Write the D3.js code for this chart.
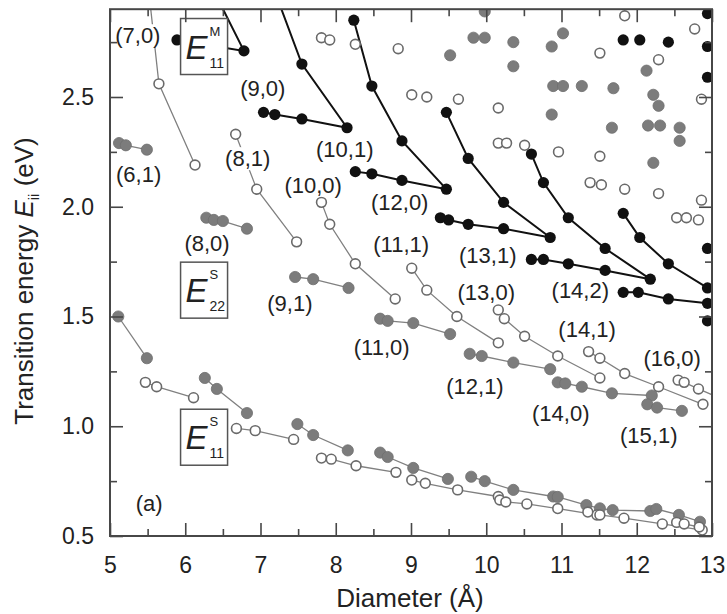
<!DOCTYPE html>
<html>
<head>
<meta charset="utf-8">
<script src="https://cdn.jsdelivr.net/npm/d3@7"></script>
<style>
  body { margin: 0; background: #fff; }
  text { font-family: "Liberation Sans", Arial, Helvetica, sans-serif; fill: #222; }
</style>
</head>
<body>
<svg id="chart" width="727" height="614"></svg>
<script>
// ---- data: [diameter (Å), transition energy (eV)] ----

// metallic E11 families (each polyline: upper branch down to the kink, then back along the lower branch)
const metallicFamilies = [
  [[6.37, 2.99], [6.78, 2.71], [5.89, 2.76]],
  [[7.18, 2.99], [7.55, 2.65], [8.15, 2.36], [7.55, 2.40], [7.19, 2.42], [7.04, 2.43]],
  [[8.24, 2.85], [8.48, 2.55], [8.88, 2.30], [9.47, 2.08], [8.88, 2.12], [8.48, 2.15], [8.26, 2.16]],
  [[9.47, 2.43], [9.76, 2.22], [10.23, 2.02], [10.85, 1.86], [10.23, 1.90], [9.76, 1.92], [9.50, 1.94], [9.39, 1.95]],
  [[10.60, 2.24], [10.76, 2.11], [11.09, 1.95], [11.58, 1.81], [12.18, 1.67], [11.58, 1.71], [11.09, 1.74], [10.76, 1.76], [10.60, 1.76]],
  [[11.82, 1.97], [12.04, 1.86], [12.42, 1.74], [12.94, 1.63], [13.31, 1.55], [12.94, 1.56], [12.42, 1.58], [12.02, 1.61], [11.82, 1.61]]
];
const metallicSingles = [
  [11.82, 2.76], [12.04, 2.76], [12.42, 2.75], [12.94, 2.88], [12.94, 2.73],
  [12.94, 2.59], [12.94, 1.81], [12.94, 1.48]
];

// semiconducting E22, open-circle families: (7,0) (8,1) (10,0) (11,1) (13,0) (14,1) (16,0)
const e22Open = [
  [[5.50, 3.03], [5.65, 2.56], [6.13, 2.19]],
  [[6.67, 2.33], [6.95, 2.08], [7.48, 1.84]],
  [[7.81, 2.02], [7.92, 1.92], [8.26, 1.74], [8.79, 1.58]],
  [[9.01, 1.72], [9.21, 1.62], [9.61, 1.50], [10.16, 1.38]],
  [[10.16, 1.53], [10.24, 1.49], [10.51, 1.41], [10.95, 1.32], [11.51, 1.22]],
  [[11.36, 1.34], [11.51, 1.31], [11.84, 1.24], [12.29, 1.18], [12.88, 1.10]],
  [[12.55, 1.21], [12.63, 1.20], [12.82, 1.17], [13.37, 1.09]]
];
// semiconducting E22, filled families: (6,1) (8,0) (9,1) (11,0) (12,1) (14,0) (15,1)
const e22Filled = [
  [[5.12, 2.29], [5.21, 2.28], [5.49, 2.26]],
  [[6.28, 1.95], [6.38, 1.94], [6.50, 1.935], [6.82, 1.90]],
  [[7.46, 1.68], [7.70, 1.67], [8.17, 1.63]],
  [[8.59, 1.49], [8.69, 1.48], [9.03, 1.47], [9.52, 1.42]],
  [[9.78, 1.33], [9.94, 1.32], [10.36, 1.29], [10.85, 1.26]],
  [[10.95, 1.20], [11.05, 1.195], [11.27, 1.18], [11.67, 1.15], [12.20, 1.14]],
  [[12.14, 1.10], [12.27, 1.085], [12.60, 1.07]]
];
// semiconducting E11 families
const e11Open = [
  [[5.47, 1.20], [5.62, 1.18], [6.11, 1.13]],
  [[6.68, 0.99], [6.93, 0.98], [7.44, 0.94]],
  [[7.81, 0.855], [7.94, 0.85], [8.27, 0.82], [8.80, 0.79]],
  [[9.01, 0.755], [9.19, 0.74], [9.62, 0.71], [10.16, 0.68]],
  [[10.18, 0.664], [10.26, 0.655], [10.54, 0.646], [10.95, 0.625], [11.47, 0.596]],
  [[11.35, 0.609], [11.51, 0.596], [11.83, 0.581], [12.34, 0.555], [12.87, 0.527]],
  [[12.53, 0.562], [12.63, 0.555], [12.83, 0.541]]
];
const e11Filled = [
  [[5.11, 1.50], [5.49, 1.31]],
  [[6.26, 1.22], [6.42, 1.17], [6.82, 1.06]],
  [[7.49, 1.01], [7.70, 0.96], [8.16, 0.89]],
  [[8.59, 0.88], [8.69, 0.86], [9.03, 0.81], [9.49, 0.76]],
  [[9.80, 0.77], [9.98, 0.75], [10.36, 0.71], [10.89, 0.68]],
  [[10.95, 0.678], [11.33, 0.641], [11.51, 0.626], [11.68, 0.618], [12.18, 0.614]],
  [[12.26, 0.623], [12.56, 0.596], [12.84, 0.565]]
];
// higher transitions of larger tubes (no connecting lines)
const scatterOpen = [
  [7.81, 2.77], [7.92, 2.76], [8.26, 2.74], [8.83, 2.72], [9.01, 2.51], [9.21, 2.50],
  [9.63, 2.49], [10.16, 2.45], [10.16, 2.29], [10.27, 2.29], [10.51, 2.28], [10.96, 2.25],
  [11.51, 2.70], [11.51, 2.23], [11.38, 2.11], [11.53, 2.10], [11.84, 2.08], [12.29, 2.06],
  [12.29, 2.67], [12.77, 2.81], [11.84, 2.87], [12.86, 2.49], [12.86, 2.03],
  [12.53, 1.95], [12.66, 1.95], [12.82, 1.94]
];
const scatterFilled = [
  [9.98, 2.89], [9.83, 2.77], [9.98, 2.77], [10.36, 2.75], [10.87, 2.73], [11.02, 2.79],
  [9.52, 2.69], [10.36, 2.64], [10.89, 2.55], [11.02, 2.55], [11.27, 2.55], [11.69, 2.54],
  [10.87, 2.42], [11.67, 2.36], [12.13, 2.62], [12.22, 2.51], [12.29, 2.46], [12.15, 2.37],
  [12.31, 2.37], [12.57, 2.36], [12.57, 2.30], [12.22, 2.20]
];

// chirality labels placed next to their families
const chiralityLabels = [
  ["(7,0)", 5.37, 2.78], ["(6,1)", 5.38, 2.15], ["(9,0)", 7.03, 2.54], ["(8,1)", 6.83, 2.22],
  ["(10,1)", 8.12, 2.26], ["(10,0)", 7.70, 2.10], ["(8,0)", 6.29, 1.835], ["(12,0)", 8.85, 2.02],
  ["(11,1)", 8.87, 1.83], ["(13,1)", 10.02, 1.78], ["(9,1)", 7.39, 1.56], ["(13,0)", 10.00, 1.61],
  ["(14,2)", 11.25, 1.62], ["(14,1)", 11.34, 1.44], ["(11,0)", 8.61, 1.36], ["(16,0)", 12.47, 1.31],
  ["(12,1)", 9.85, 1.18], ["(14,0)", 10.99, 1.06], ["(15,1)", 12.16, 0.96]
];
const panelTag = ["(a)", 5.52, 0.65];
// boxed transition names: superscript, subscript, box centre
const boxNames = [
  ["M", "11", 6.25, 2.73],
  ["S", "22", 6.25, 1.62],
  ["S", "11", 6.25, 0.95]
];

const xMajor = [5, 6, 7, 8, 9, 10, 11, 12, 13];
const xMinor = [5.5, 6.5, 7.5, 8.5, 9.5, 10.5, 11.5, 12.5];
const yMajor = [0.5, 1.0, 1.5, 2.0, 2.5];
const yMinor = [0.75, 1.25, 1.75, 2.25, 2.75];

// ---- layout ----
const svg = d3.select("#chart");
const plotLeft = 110, plotRight = 712, plotTop = 9.2, plotBottom = 536;
const x = d3.scaleLinear().domain([5, 13]).range([plotLeft, plotRight]);
const y = d3.scaleLinear().domain([0.5, 2.9]).range([plotBottom, plotTop]);

const frameColor = "#474747";
const grayLine = "#808080";
const grayFill = "#7c7c7c";
const openStroke = "#6a6a6a";

svg.append("defs").append("clipPath").attr("id", "plotClip")
  .append("rect").attr("x", plotLeft).attr("y", plotTop)
  .attr("width", plotRight - plotLeft).attr("height", plotBottom - plotTop);

const plot = svg.append("g").attr("clip-path", "url(#plotClip)");
const line = d3.line().x(d => x(d[0])).y(d => y(d[1]));

// connecting lines
const semiFamilies = [...e22Open, ...e22Filled, ...e11Open, ...e11Filled];
plot.selectAll("path.semi").data(semiFamilies).join("path")
  .attr("class", "semi").attr("d", line)
  .attr("fill", "none").attr("stroke", grayLine).attr("stroke-width", 1.3);
plot.selectAll("path.metal").data(metallicFamilies).join("path")
  .attr("class", "metal").attr("d", line)
  .attr("fill", "none").attr("stroke", "#111").attr("stroke-width", 2);

// markers
const openPts = [...e22Open.flat(), ...e11Open.flat(), ...scatterOpen];
const filledPts = [...e22Filled.flat(), ...e11Filled.flat(), ...scatterFilled];
const metalPts = [...metallicFamilies.flat(), ...metallicSingles];

plot.selectAll("circle.filled").data(filledPts).join("circle")
  .attr("class", "filled")
  .attr("cx", d => x(d[0])).attr("cy", d => y(d[1])).attr("r", 5.6)
  .attr("fill", grayFill).attr("stroke", "#6e6e6e").attr("stroke-width", 0.8);
plot.selectAll("circle.open").data(openPts).join("circle")
  .attr("class", "open")
  .attr("cx", d => x(d[0])).attr("cy", d => y(d[1])).attr("r", 4.9)
  .attr("fill", "#fff").attr("stroke", openStroke).attr("stroke-width", 1.6);
plot.selectAll("circle.metal").data(metalPts).join("circle")
  .attr("class", "metal")
  .attr("cx", d => x(d[0])).attr("cy", d => y(d[1])).attr("r", 5.6)
  .attr("fill", "#111");

// chirality labels on a white backing
const labelLayer = svg.append("g");
chiralityLabels.concat([panelTag]).forEach(([txt, d, e]) => {
  const g = labelLayer.append("g");
  const t = g.append("text")
    .attr("x", x(d)).attr("y", y(e)).attr("dy", "0.35em")
    .attr("text-anchor", "middle").attr("font-size", 22)
    .text(txt);
  const bb = t.node().getBBox();
  g.insert("rect", "text")
    .attr("x", bb.x - 1).attr("y", bb.y + 1)
    .attr("width", bb.width + 2).attr("height", bb.height - 2)
    .attr("fill", "#fff");
});

// boxed transition names: italic E with superscript and subscript set as one text run
const boxW = 47, boxH = 56;
boxNames.forEach(([sup, sub, d, e]) => {
  const bx = x(d) - boxW / 2, by = y(e) - boxH / 2;
  const g = svg.append("g").attr("transform", `translate(${bx},${by})`);
  g.append("rect").attr("width", boxW).attr("height", boxH)
    .attr("fill", "#fff").attr("stroke", "#555").attr("stroke-width", 1.5);
  const t = g.append("text").attr("x", 5).attr("y", 40).attr("font-size", 33);
  t.append("tspan").attr("font-style", "italic").text("E");
  t.append("tspan").attr("font-size", 13).attr("dx", 2).attr("dy", -23).text(sup);
  t.append("tspan").attr("font-size", 14).attr("x", 29).attr("y", 49).text(sub);
});

// axes: inward ticks on all four sides, labels on bottom and left
function styleAxis(g) {
  g.select(".domain").remove();
  g.selectAll(".tick line").attr("stroke", frameColor).attr("stroke-width", 1.6);
  g.selectAll(".tick text").attr("font-size", 23)
    .style("font-family", '"Liberation Sans", Arial, sans-serif').attr("fill", "#222");
}
const fmtY = d3.format(".1f");
svg.append("g").attr("transform", `translate(0,${plotBottom})`)
  .call(d3.axisBottom(x).tickValues(xMajor).tickSizeInner(-13).tickSizeOuter(0).tickPadding(21).tickFormat(d3.format("d")))
  .call(styleAxis);
svg.append("g").attr("transform", `translate(0,${plotBottom})`)
  .call(d3.axisBottom(x).tickValues(xMinor).tickSizeInner(-7).tickSizeOuter(0).tickFormat(""))
  .call(styleAxis);
svg.append("g").attr("transform", `translate(0,${plotTop})`)
  .call(d3.axisTop(x).tickValues(xMajor).tickSizeInner(-13).tickSizeOuter(0).tickFormat(""))
  .call(styleAxis);
svg.append("g").attr("transform", `translate(0,${plotTop})`)
  .call(d3.axisTop(x).tickValues(xMinor).tickSizeInner(-7).tickSizeOuter(0).tickFormat(""))
  .call(styleAxis);
svg.append("g").attr("transform", `translate(${plotLeft},0)`)
  .call(d3.axisLeft(y).tickValues(yMajor).tickSizeInner(-13).tickSizeOuter(0).tickPadding(16).tickFormat(fmtY))
  .call(styleAxis);
svg.append("g").attr("transform", `translate(${plotLeft},0)`)
  .call(d3.axisLeft(y).tickValues(yMinor).tickSizeInner(-7).tickSizeOuter(0).tickFormat(""))
  .call(styleAxis);
svg.append("g").attr("transform", `translate(${plotRight},0)`)
  .call(d3.axisRight(y).tickValues(yMajor).tickSizeInner(-13).tickSizeOuter(0).tickFormat(""))
  .call(styleAxis);
svg.append("g").attr("transform", `translate(${plotRight},0)`)
  .call(d3.axisRight(y).tickValues(yMinor).tickSizeInner(-7).tickSizeOuter(0).tickFormat(""))
  .call(styleAxis);

// frame
svg.append("rect").attr("x", plotLeft).attr("y", plotTop)
  .attr("width", plotRight - plotLeft).attr("height", plotBottom - plotTop)
  .attr("fill", "none").attr("stroke", frameColor).attr("stroke-width", 2);

// axis titles
svg.append("text").attr("x", (plotLeft + plotRight) / 2 - 1).attr("y", 607)
  .attr("text-anchor", "middle").attr("font-size", 26).text("Diameter (Å)");

const yTitle = svg.append("text")
  .attr("transform", "translate(33,281) rotate(-90)")
  .attr("text-anchor", "middle").attr("font-size", 26);
yTitle.append("tspan").text("Transition energy ");
yTitle.append("tspan").attr("font-style", "italic").text("E");
yTitle.append("tspan").attr("font-size", 15).attr("dy", 6).text("ii");
yTitle.append("tspan").attr("dy", -6).text(" (eV)");
</script>
</body>
</html>
